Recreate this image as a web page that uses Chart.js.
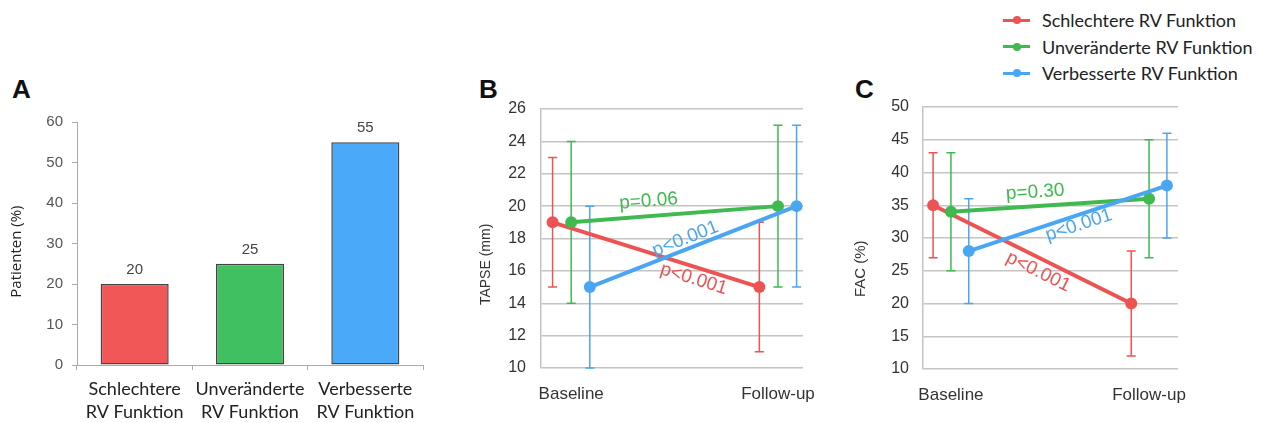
<!DOCTYPE html>
<html>
<head>
<meta charset="utf-8">
<script src="https://cdn.jsdelivr.net/npm/chart.js@4.4.1/dist/chart.umd.min.js"></script>
<style>
  body { margin: 0; width: 1261px; height: 423px; background: #fff; position: relative; overflow: hidden; }
  .panel { position: absolute; top: 90px; height: 333px; }
  .letter { position: absolute; top: 76px; font: bold 26px "Liberation Sans", Arial, sans-serif; line-height: 26px; color: #111; }
  #legend { position: absolute; left: 1003px; top: 7px; font: 18px Lato, sans-serif; color: #222; }
  #legend .row { height: 26.5px; display: flex; align-items: center; }
  #legend .sym { position: relative; width: 27px; height: 3px; margin-right: 12px; }
  #legend .sym i { position: absolute; left: 9.5px; top: -2.5px; width: 8px; height: 8px; border-radius: 50%; background: inherit; }
</style>
</head>
<body>
<div class="letter" style="left:12px">A</div>
<div class="letter" style="left:479px">B</div>
<div class="letter" style="left:855px">C</div>
<div id="legend"></div>

<div class="panel" style="left:0;width:440px"><canvas id="chartA"></canvas></div>
<div class="panel" style="left:470px;width:360px"><canvas id="chartB"></canvas></div>
<div class="panel" style="left:840px;width:360px"><canvas id="chartC"></canvas></div>

<script>
// Daten
const groups = ['Schlechtere RV Funktion', 'Unveränderte RV Funktion', 'Verbesserte RV Funktion'];
const patientPct = [20, 25, 55];
const pctTicks = [0, 10, 20, 30, 40, 50, 60];

const timepoints = ['Baseline', 'Follow-up'];

// TAPSE (mm): je Gruppe [Baseline, Follow-up]
const tapseMean = [[19, 15], [19, 20], [15, 20]];
const tapseLow = [[15, 11], [14, 15], [10, 15]];
const tapseHigh = [[23, 19], [24, 25], [20, 25]];
const tapseP = ['p<0.001', 'p=0.06', 'p<0.001'];
const tapseTicks = [10, 12, 14, 16, 18, 20, 22, 24, 26];

// FAC (%)
const facMean = [[35, 20], [34, 36], [28, 38]];
const facLow = [[27, 12], [25, 27], [20, 30]];
const facHigh = [[43, 28], [43, 45], [36, 46]];
const facP = ['p<0.001', 'p=0.30', 'p<0.001'];
const facTicks = [10, 15, 20, 25, 30, 35, 40, 45, 50];

// Farben
const barColors = ['#f25757', '#40c060', '#4aaaf9'];
const lineColors = ['#ee5353', '#3fb950', '#4aa6f2'];

// Legende
const legend = document.getElementById('legend');
groups.forEach((g, i) => {
    const row = document.createElement('div');
    row.className = 'row';
    row.innerHTML = `<span class="sym" style="background:${lineColors[i]}"><i></i></span>${g}`;
    legend.appendChild(row);
});

// Werte über den Balken
const barValues = {
    id: 'barValues',
    afterDatasetsDraw(chart) {
        const ctx = chart.ctx;
        const meta = chart.getDatasetMeta(0);
        ctx.save();
        ctx.font = '15px "Liberation Sans", Arial';
        ctx.fillStyle = '#444';
        ctx.textAlign = 'center';
        ctx.textBaseline = 'middle';
        meta.data.forEach((bar, i) => {
            ctx.fillText(chart.data.datasets[0].data[i], bar.x, bar.y - 14);
        });
        ctx.restore();
    }
};

// y-Achsentitel (etwas unterhalb der Mitte, wie im Original)
const axisTitle = {
    id: 'axisTitle',
    afterDraw(chart, args, opts) {
        const ctx = chart.ctx;
        ctx.save();
        ctx.translate(opts.x, chart.scales.y.getPixelForValue(opts.at));
        ctx.rotate(-Math.PI / 2);
        ctx.font = opts.font;
        ctx.fillStyle = opts.color;
        ctx.textAlign = 'center';
        ctx.textBaseline = 'middle';
        ctx.fillText(opts.text, 0, 0);
        ctx.restore();
    }
};

// Fehlerbalken
const errorBars = {
    id: 'errorBars',
    beforeDatasetsDraw(chart, args, opts) {
        const { ctx, scales: { x, y } } = chart;
        chart.data.datasets.forEach((ds, i) => {
            ds.data.forEach((pt, j) => {
                const px = x.getPixelForValue(pt.x);
                const lo = y.getPixelForValue(opts.low[i][j]);
                const hi = y.getPixelForValue(opts.high[i][j]);
                ctx.save();
                ctx.strokeStyle = ds.borderColor;
                ctx.lineWidth = 1.5;
                ctx.beginPath();
                ctx.moveTo(px, lo); ctx.lineTo(px, hi);
                ctx.moveTo(px - 4.5, lo); ctx.lineTo(px + 4.5, lo);
                ctx.moveTo(px - 4.5, hi); ctx.lineTo(px + 4.5, hi);
                ctx.stroke();
                ctx.restore();
            });
        });
    }
};

// p-Werte entlang der Linien
const pLabels = {
    id: 'pLabels',
    afterDatasetsDraw(chart, args, opts) {
        const ctx = chart.ctx;
        chart.data.datasets.forEach((ds, i) => {
            const [a, b] = chart.getDatasetMeta(i).data;
            const ang = Math.atan2(b.y - a.y, b.x - a.x);
            const [t, off] = opts.at[i];
            ctx.save();
            ctx.translate(a.x + (b.x - a.x) * t, a.y + (b.y - a.y) * t);
            ctx.rotate(ang);
            ctx.font = '19px "Liberation Sans", Arial';
            ctx.fillStyle = ds.borderColor;
            ctx.textAlign = 'center';
            ctx.textBaseline = 'middle';
            ctx.fillText(opts.texts[i], 0, off);
            ctx.restore();
        });
    }
};

// feste Achsenbreite, ohne Zusatzabstand oben/unten
const fixWidth = w => s => {
    s.width = w;
    s.paddingTop = 0;
    s.paddingBottom = 0;
};

// Balkendiagramm A
new Chart(document.getElementById('chartA'), {
    type: 'bar',
    data: {
        labels: groups.map(g => {
            const k = g.indexOf(' ');
            return [g.slice(0, k), g.slice(k + 1)];
        }),
        datasets: [{
            data: patientPct,
            backgroundColor: barColors,
            borderColor: '#444',
            borderWidth: 1.5,
            borderSkipped: false,
            barPercentage: 0.59,
            categoryPercentage: 1
        }]
    },
    options: {
        animation: false,
        responsive: true,
        maintainAspectRatio: false,
        layout: { padding: { top: 32, right: 17 } },
        plugins: {
            legend: { display: false },
            tooltip: { enabled: false },
            axisTitle: { text: 'Patienten (%)', font: '15px "Open Sans"', color: '#222', x: 17, at: 28 }
        },
        scales: {
            x: {
                grid: { drawOnChartArea: false, offset: true, color: '#aaa', tickLength: 5 },
                border: { color: '#aaa' },
                ticks: { font: { family: 'Lato', size: 18, lineHeight: 1.28 }, color: '#222', padding: 8 },
                afterFit: s => { s.height = 58; }
            },
            y: {
                min: 0,
                max: 60,
                afterBuildTicks: s => { s.ticks = pctTicks.map(v => ({ value: v })); },
                ticks: { font: { family: 'Liberation Sans', size: 15 }, color: '#555', padding: 9 },
                grid: { drawOnChartArea: false, color: '#aaa', tickLength: 5 },
                border: { color: '#aaa' },
                afterFit: fixWidth(77)
            }
        }
    },
    plugins: [barValues, axisTitle]
});

// Liniendiagramme B und C
const offsets = [-0.09, 0, 0.09];

function lineChart(id, mean, low, high, pTexts, pAt, ticks, title, xMin, xMax, yWidth, pad) {
    return new Chart(document.getElementById(id), {
        type: 'line',
        data: {
            datasets: groups.map((g, i) => ({
                label: g,
                data: mean[i].map((v, j) => ({ x: j + offsets[i], y: v })),
                borderColor: lineColors[i],
                backgroundColor: lineColors[i],
                borderWidth: 4,
                pointRadius: 6,
                pointBorderWidth: 0,
                pointBackgroundColor: lineColors[i],
                order: 2 - i
            }))
        },
        options: {
            animation: false,
            responsive: true,
            maintainAspectRatio: false,
            layout: { padding: { top: pad.top, right: pad.right } },
            plugins: {
                legend: { display: false },
                tooltip: { enabled: false },
                errorBars: { low, high },
                pLabels: { texts: pTexts, at: pAt },
                axisTitle: title
            },
            scales: {
                x: {
                    type: 'linear',
                    min: xMin,
                    max: xMax,
                    afterBuildTicks: s => { s.ticks = [{ value: 0 }, { value: 1 }]; },
                    ticks: { callback: v => timepoints[v], font: { family: 'Liberation Sans', size: 17 }, color: '#333', padding: 8 },
                    grid: { display: false },
                    border: { display: false },
                    afterFit: s => { s.height = pad.axis; }
                },
                y: {
                    min: ticks[0],
                    max: ticks[ticks.length - 1],
                    afterBuildTicks: s => { s.ticks = ticks.map(v => ({ value: v })); },
                    ticks: { font: { family: 'Liberation Sans', size: 16 }, color: '#333', padding: pad.tick },
                    grid: { color: '#c4c4c4', lineWidth: 1.5, drawTicks: false },
                    border: { color: '#c4c4c4', width: 1.5 },
                    afterFit: fixWidth(yWidth)
                }
            }
        },
        plugins: [errorBars, pLabels, axisTitle]
    });
}

lineChart('chartB', tapseMean, tapseLow, tapseHigh, tapseP,
    [[0.70, 12], [0.38, -15], [0.48, -10]],
    tapseTicks,
    { text: 'TAPSE (mm)', font: '14px "Liberation Sans"', color: '#333', x: 16, at: 16.4 },
    -0.146, 1.121, 71,
    { top: 19, right: 27, axis: 55, tick: 15 });

lineChart('chartC', facMean, facLow, facHigh, facP,
    [[0.56, 13], [0.43, -14], [0.54, 10]],
    facTicks,
    { text: 'FAC (%)', font: '15px "Liberation Sans"', color: '#333', x: 21, at: 25.3 },
    -0.141, 1.146, 83,
    { top: 17, right: 22, axis: 54, tick: 14 });
</script>
</body>
</html>
